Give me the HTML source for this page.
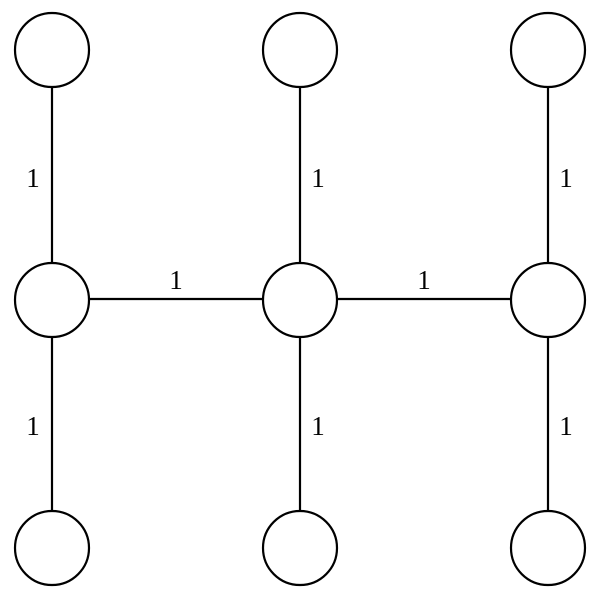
<!DOCTYPE html>
<html><head><style>html,body{margin:0;padding:0;background:#fff;}</style></head>
<body>
<svg width="600" height="600" viewBox="0 0 600 600" xmlns="http://www.w3.org/2000/svg">
<g stroke="#000" stroke-width="2.2" fill="none">
<line x1="52" y1="87" x2="52" y2="511"/>
<line x1="300" y1="87" x2="300" y2="511"/>
<line x1="548" y1="87" x2="548" y2="511"/>
<line x1="89" y1="299" x2="511" y2="299"/>
</g>
<g stroke="#000" stroke-width="2.2" fill="#fff">
<circle cx="52" cy="50" r="37"/><circle cx="300" cy="50" r="37"/><circle cx="548" cy="50" r="37"/>
<circle cx="52" cy="300" r="37"/><circle cx="300" cy="300" r="37"/><circle cx="548" cy="300" r="37"/>
<circle cx="52" cy="548" r="37"/><circle cx="300" cy="548" r="37"/><circle cx="548" cy="548" r="37"/>
</g>
<g font-family="Liberation Serif, serif" font-size="27" text-anchor="middle" fill="#000">
<text x="33" y="187">1</text><text x="318" y="187">1</text><text x="566" y="187">1</text>
<text x="33" y="435">1</text><text x="318" y="435">1</text><text x="566" y="435">1</text>
<text x="176" y="289">1</text><text x="424" y="289">1</text>
</g>
</svg>
</body></html>
